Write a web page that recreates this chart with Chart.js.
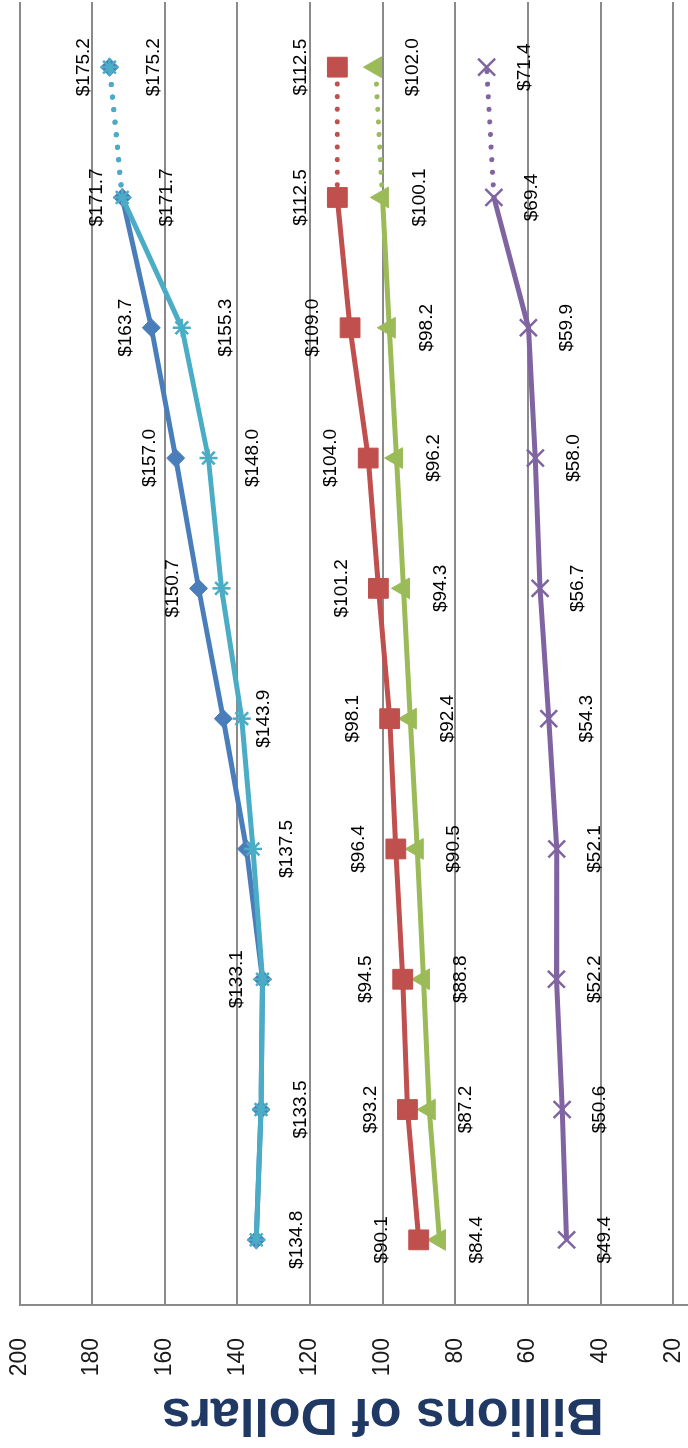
<!DOCTYPE html>
<html>
<head>
<meta charset="utf-8">
<script src="https://cdn.jsdelivr.net/npm/chart.js"></script>
<style>
  html, body { margin: 0; padding: 0; background: #fff; }
  body { width: 688px; height: 1448px; overflow: hidden; position: relative; }
  /* chart is drawn in landscape and turned a quarter turn to the left */
  #wrap {
    position: absolute; left: 0; top: 0;
    width: 1448px; height: 688px; overflow: hidden;
    transform-origin: 0 0;
    transform: translate(0, 1448px) rotate(-90deg);
  }
  canvas { display: block; }
</style>
</head>
<body>
<div id="wrap"><canvas id="chart" width="1448" height="770"></canvas></div>
<script>
const categories = ['1', '2', '3', '4', '5', '6', '7', '8', '9', '10'];

const blueValues   = [134.8, 133.5, 133.1, 137.5, 143.9, 150.7, 157.0, 163.7, 171.7, 175.2];
const cyanValues   = [134.8, 133.5, 133.1, 135.7, 138.8, 144.4, 148.0, 155.3, 171.7, 175.2];
const redValues    = [90.1, 93.2, 94.5, 96.4, 98.1, 101.2, 104.0, 109.0, 112.5, 112.5];
const greenValues  = [84.4, 87.2, 88.8, 90.5, 92.4, 94.3, 96.2, 98.2, 100.1, 102.0];
const purpleValues = [49.4, 50.6, 52.2, 52.1, 54.3, 56.7, 58.0, 59.9, 69.4, 71.4];

// -1 = label above the point, 1 = below, 0 = no label
const blueLabelSide   = [1, 1, -1, 1, 1, -1, -1, -1, -1, -1];
const cyanLabelSide   = [0, 0, 0, 0, 0, 0, 1, 1, 1, 1];
const redLabelSide    = [-1, -1, -1, -1, -1, -1, -1, -1, -1, -1];
const greenLabelSide  = [1, 1, 1, 1, 1, 1, 1, 1, 1, 1];
const purpleLabelSide = [1, 1, 1, 1, 1, 1, 1, 1, 1, 1];

const yTicks = { min: 0, max: 200, step: 20 };

// last segment of every line is a projection, drawn dotted
const lastSeg = categories.length - 1;
const dottedTail = {
    borderDash: ctx => ctx.p1DataIndex === lastSeg ? [0.1, 12.5] : undefined,
    borderCapStyle: ctx => ctx.p1DataIndex === lastSeg ? 'round' : 'butt'
};

const makeLine = (data, color, style, radius, side, above, below, order) => ({
    data: data,
    borderColor: color,
    backgroundColor: color,
    borderWidth: 5,
    pointStyle: style,
    pointRadius: radius,
    pointBackgroundColor: color,
    pointBorderColor: color,
    pointBorderWidth: (style === 'star' || style === 'crossRot') ? 2.5 : 1,
    tension: 0,
    segment: dottedTail,
    labelSide: side,
    labelAbove: above,
    labelBelow: below,
    order: order
});

const valueLabels = {
    id: 'valueLabels',
    afterDatasetsDraw(chart) {
        const ctx = chart.ctx;
        ctx.save();
        ctx.font = '19px "Liberation Sans", Arial, sans-serif';
        ctx.fillStyle = '#000';
        ctx.textAlign = 'center';
        ctx.textBaseline = 'middle';
        chart.data.datasets.forEach((ds, i) => {
            chart.getDatasetMeta(i).data.forEach((pt, j) => {
                const side = ds.labelSide[j];
                if (!side) return;
                const off = side < 0 ? ds.labelAbove : ds.labelBelow;
                ctx.fillText('$' + ds.data[j].toFixed(1), pt.x, pt.y + side * off);
            });
        });
        ctx.restore();
    }
};

const gridColor = '#8a8a8a';

new Chart(document.getElementById('chart').getContext('2d'), {
    type: 'line',
    data: {
        labels: categories,
        datasets: [
            makeLine(blueValues, '#4A7EBB', 'rectRot', 9, blueLabelSide, 26, 40, 1),
            makeLine(redValues, '#C0504D', 'rect', 14, redLabelSide, 37, 37, 1),
            makeLine(greenValues, '#9BBB59', 'triangle', 12, greenLabelSide, 37, 37, 1),
            makeLine(purpleValues, '#8064A2', 'crossRot', 12, purpleLabelSide, 38, 38, 1),
            makeLine(cyanValues, '#4BACC6', 'star', 9, cyanLabelSide, 44, 44, 0)
        ]
    },
    options: {
        responsive: false,
        animation: false,
        devicePixelRatio: 1,
        layout: { autoPadding: false, padding: { top: 19.5, right: 2, bottom: 24, left: 0 } },
        plugins: {
            legend: { display: false },
            tooltip: { enabled: false }
        },
        scales: {
            x: {
                display: false,
                offset: true
            },
            y: {
                min: yTicks.min,
                max: yTicks.max,
                afterFit: scale => {
                    scale.width = 143;
                    scale.paddingTop = 0;
                    scale.paddingBottom = 0;
                },
                ticks: {
                    stepSize: yTicks.step,
                    padding: 33,
                    color: '#1a1a1a',
                    font: { family: '"Liberation Sans", Arial, sans-serif', size: 23 }
                },
                grid: { color: gridColor, lineWidth: 2, drawTicks: false },
                border: { display: true, color: gridColor, width: 2 },
                title: {
                    display: true,
                    text: 'Billions of Dollars',
                    color: '#1F3864',
                    padding: { top: 9, bottom: 0 },
                    font: { family: '"Liberation Sans", Arial, sans-serif', size: 52, weight: 'bold', lineHeight: 1 }
                }
            }
        }
    },
    plugins: [valueLabels]
});
</script>
</body>
</html>
